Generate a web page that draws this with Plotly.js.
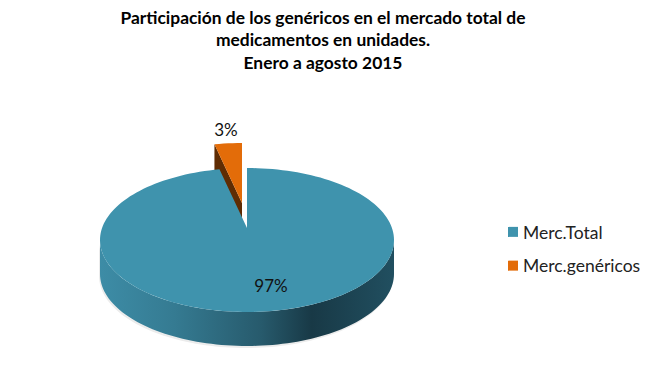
<!DOCTYPE html>
<html>
<head>
<meta charset="utf-8">
<script src="https://cdn.plot.ly/plotly-3.0.1.min.js"></script>
<style>
html,body{margin:0;padding:0;background:#fff}
#chart{width:652px;height:375px}
.legendpoints{transform:translate(10px,0)}
</style>
</head>
<body>
<div id="chart"></div>
<script>
const categories = ['Merc.Total', 'Merc.genéricos'];
const shares = [97, 3];
const topColors = ['#3f93ad', '#e36c09'];
const titleText = 'Participación de los genéricos en el mercado total de<br>medicamentos en unidades.<br>Enero a agosto 2015';

// Projection of the tilted disc onto the axes
const cx = 247, cyRim = 240, cyApex = 228, ra = 147, rb = 72, depth = 34;
const pull = [-5, -25];
const total = shares.reduce((a, b) => a + b, 0);
const rad = d => d * Math.PI / 180;
const rim = d => [cx + ra * Math.sin(rad(d)), cyRim - rb * Math.cos(rad(d))];
function arc(d0, d1) {
  const pts = [], n = Math.max(2, Math.ceil(Math.abs(d1 - d0) / 2));
  for (let i = 0; i <= n; i++) pts.push(rim(d0 + (d1 - d0) * i / n));
  return pts;
}
const shift = (pts, dx, dy) => pts.map(p => [p[0] + dx, p[1] + dy]);
function poly(pts, extra) {
  return Object.assign({
    type: 'scatter', mode: 'none', fill: 'toself', hoverinfo: 'skip', showlegend: false,
    x: pts.map(p => p[0]).concat(pts[0][0]),
    y: pts.map(p => p[1]).concat(pts[0][1])
  }, extra);
}

const d0 = 0, d1 = 360 * shares[0] / total, d2 = 360;
const apex = [cx, cyApex];

// Front wall of the large slice
const frontTop = arc(90, 270);
const frontBottom = shift(frontTop, 0, depth).reverse();

const traces = [];
// faint drop shadow
traces.push(poly(shift(frontTop, -1, 2).concat(shift(frontBottom, -1, 2)), {fillcolor: '#ececec'}));
// pulled slice: radial wall, then top
const pStart = shift([rim(d1)], pull[0], pull[1])[0];
const pApex = [apex[0] + pull[0], apex[1] + pull[1]];
traces.push(poly([pStart, [pStart[0], pStart[1] + depth], [pApex[0], pApex[1] + depth], pApex], {fillcolor: '#5f2c03'}));
traces.push(poly(shift(arc(d1, d2), pull[0], pull[1]).concat([pApex]), {fillcolor: topColors[1]}));
// large slice: wall with shading, then top
traces.push(poly(frontTop.concat(frontBottom), {
  fillgradient: {
    type: 'horizontal', start: cx - ra, stop: cx + ra,
    colorscale: [[0, '#3d8ca6'], [0.25, '#357b92'], [0.55, '#275a6c'], [0.72, '#183946'], [1, '#214f60']]
  }
}));
traces.push(poly([apex].concat(arc(d0, d1)), {fillcolor: topColors[0]}));
// percentage labels
traces.push({
  type: 'scatter', mode: 'text', hoverinfo: 'skip', showlegend: false,
  x: [271, 226], y: [288, 132],
  text: shares.map(v => Math.round(v / total * 100) + '%'),
  textposition: 'middle center',
  textfont: {family: 'Lato, sans-serif', size: 17, color: '#111'}
});
// legend entries
categories.forEach((name, i) => traces.push({
  type: 'scatter', mode: 'markers', name: name, x: [null], y: [null],
  legendgroup: name, hoverinfo: 'skip',
  marker: {symbol: 'square', size: 10, color: topColors[i]}
}));

const axis = {visible: false, fixedrange: true, showgrid: false, zeroline: false};
Plotly.newPlot('chart', traces, {
  width: 652, height: 375,
  margin: {l: 0, r: 0, t: 0, b: 0},
  paper_bgcolor: '#fff', plot_bgcolor: '#fff',
  xaxis: Object.assign({range: [0, 652]}, axis),
  yaxis: Object.assign({range: [375, 0]}, axis),
  title: {
    text: titleText, x: 323 / 652, xanchor: 'center', y: 0.937, yanchor: 'top',
    font: {family: 'Lato, sans-serif', size: 17.4, color: '#000', weight: 700}
  },
  legend: {
    x: 483 / 652, xanchor: 'left', y: 1 - 214 / 375, yanchor: 'top',
    font: {family: 'Lato, sans-serif', size: 17.5, color: '#222'},
    tracegroupgap: 8, bgcolor: 'rgba(0,0,0,0)', itemclick: false, itemdoubleclick: false
  }
}, {displayModeBar: false, staticPlot: true});
</script>
</body>
</html>
